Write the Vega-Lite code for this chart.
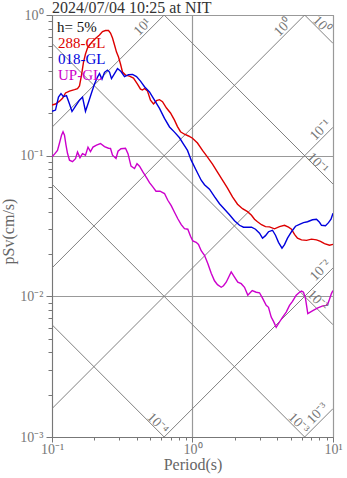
{
"$schema":"https://vega.github.io/schema/vega-lite/v6.json",
"width":281,"height":422,
"autosize":{"type":"none"},
"padding":{"left":52,"top":15,"right":14,"bottom":41},
"config":{"view":{"stroke":"#888","strokeWidth":1},"font":"Liberation Serif"},
"title":{"text":"2024/07/04 10:25 at NIT","anchor":"start","frame":"group","font":"Liberation Serif","fontSize":16,"fontWeight":"normal","color":"#333","offset":4,"dy":12},
"datasets":{
"grid":[
{"g":"a10","T":0.1,"Sv":0.159155},{"g":"a10","T":0.628319,"Sv":1},
{"g":"a1","T":0.1,"Sv":0.0159155},{"g":"a1","T":6.28319,"Sv":1},
{"g":"a01","T":0.1,"Sv":0.00159155},{"g":"a01","T":10,"Sv":0.159155},
{"g":"a001","T":0.628319,"Sv":0.001},{"g":"a001","T":10,"Sv":0.0159155},
{"g":"a0001","T":6.28319,"Sv":0.001},{"g":"a0001","T":10,"Sv":0.00159155},
{"g":"d1","T":6.28319,"Sv":1},{"g":"d1","T":10,"Sv":0.628319},
{"g":"d01","T":0.628319,"Sv":1},{"g":"d01","T":10,"Sv":0.0628319},
{"g":"d001","T":0.1,"Sv":0.628319},{"g":"d001","T":10,"Sv":0.00628319},
{"g":"d0001","T":0.1,"Sv":0.0628319},{"g":"d0001","T":6.28319,"Sv":0.001},
{"g":"d00001","T":0.1,"Sv":0.00628319},{"g":"d00001","T":0.628319,"Sv":0.001}
],
"labels":[
{"k":"Sa","lab":"10¹","T":0.441,"Sv":0.821},
{"k":"Sa","lab":"10⁰","T":4.41,"Sv":0.815},
{"k":"Sa","lab":"10⁻¹","T":8.15,"Sv":0.152},
{"k":"Sa","lab":"10⁻²","T":8.15,"Sv":0.0153},
{"k":"Sa","lab":"10⁻³","T":7.76,"Sv":0.00147},
{"k":"Sd","lab":"10⁰","T":8.28,"Sv":0.849},
{"k":"Sd","lab":"10⁻¹","T":7.76,"Sv":0.0884},
{"k":"Sd","lab":"10⁻²","T":7.76,"Sv":0.00937},
{"k":"Sd","lab":"10⁻³","T":5.68,"Sv":0.00125},
{"k":"Sd","lab":"10⁻⁴","T":0.5636,"Sv":0.001247}
],
"spectra":[
{"c":"288-GL","T":0.1,"Sv":0.229},{"c":"288-GL","T":0.1059,"Sv":0.233},{"c":"288-GL","T":0.1131,"Sv":0.244},{"c":"288-GL","T":0.1188,"Sv":0.256},{"c":"288-GL","T":0.1248,"Sv":0.279},{"c":"288-GL","T":0.1332,"Sv":0.288},{"c":"288-GL","T":0.1446,"Sv":0.295},{"c":"288-GL","T":0.1519,"Sv":0.300},{"c":"288-GL","T":0.1569,"Sv":0.313},{"c":"288-GL","T":0.1622,"Sv":0.374},{"c":"288-GL","T":0.1676,"Sv":0.463},{"c":"288-GL","T":0.1731,"Sv":0.528},{"c":"288-GL","T":0.1789,"Sv":0.582},{"c":"288-GL","T":0.1849,"Sv":0.612},{"c":"288-GL","T":0.1941,"Sv":0.648},{"c":"288-GL","T":0.2040,"Sv":0.680},{"c":"288-GL","T":0.2178,"Sv":0.720},{"c":"288-GL","T":0.2288,"Sv":0.763},{"c":"288-GL","T":0.2404,"Sv":0.776},{"c":"288-GL","T":0.2524,"Sv":0.776},{"c":"288-GL","T":0.2609,"Sv":0.744},{"c":"288-GL","T":0.2696,"Sv":0.686},{"c":"288-GL","T":0.2786,"Sv":0.612},{"c":"288-GL","T":0.2878,"Sv":0.545},{"c":"288-GL","T":0.2974,"Sv":0.503},{"c":"288-GL","T":0.3073,"Sv":0.448},{"c":"288-GL","T":0.3176,"Sv":0.393},{"c":"288-GL","T":0.3336,"Sv":0.374},{"c":"288-GL","T":0.3562,"Sv":0.368},{"c":"288-GL","T":0.3802,"Sv":0.356},{"c":"288-GL","T":0.4059,"Sv":0.323},{"c":"288-GL","T":0.4265,"Sv":0.297},{"c":"288-GL","T":0.4407,"Sv":0.293},{"c":"288-GL","T":0.4553,"Sv":0.300},{"c":"288-GL","T":0.4783,"Sv":0.288},{"c":"288-GL","T":0.5023,"Sv":0.248},{"c":"288-GL","T":0.5278,"Sv":0.233},{"c":"288-GL","T":0.5542,"Sv":0.246},{"c":"288-GL","T":0.5823,"Sv":0.250},{"c":"288-GL","T":0.6116,"Sv":0.242},{"c":"288-GL","T":0.6530,"Sv":0.218},{"c":"288-GL","T":0.6973,"Sv":0.201},{"c":"288-GL","T":0.7444,"Sv":0.179},{"c":"288-GL","T":0.7819,"Sv":0.161},{"c":"288-GL","T":0.8215,"Sv":0.148},{"c":"288-GL","T":0.8770,"Sv":0.142},{"c":"288-GL","T":0.9365,"Sv":0.138},{"c":"288-GL","T":1.000,"Sv":0.133},{"c":"288-GL","T":1.085,"Sv":0.123},{"c":"288-GL","T":1.178,"Sv":0.109},{"c":"288-GL","T":1.279,"Sv":0.0976},{"c":"288-GL","T":1.388,"Sv":0.0870},{"c":"288-GL","T":1.506,"Sv":0.0763},{"c":"288-GL","T":1.635,"Sv":0.0669},{"c":"288-GL","T":1.775,"Sv":0.0587},{"c":"288-GL","T":1.926,"Sv":0.0509},{"c":"288-GL","T":2.091,"Sv":0.0452},{"c":"288-GL","T":2.270,"Sv":0.0420},{"c":"288-GL","T":2.464,"Sv":0.0400},{"c":"288-GL","T":2.630,"Sv":0.0377},{"c":"288-GL","T":2.762,"Sv":0.0353},{"c":"288-GL","T":2.901,"Sv":0.0339},{"c":"288-GL","T":3.098,"Sv":0.0323},{"c":"288-GL","T":3.308,"Sv":0.0313},{"c":"288-GL","T":3.532,"Sv":0.0312},{"c":"288-GL","T":3.834,"Sv":0.0302},{"c":"288-GL","T":4.161,"Sv":0.0313},{"c":"288-GL","T":4.517,"Sv":0.0320},{"c":"288-GL","T":4.823,"Sv":0.0310},{"c":"288-GL","T":5.066,"Sv":0.0300},{"c":"288-GL","T":5.321,"Sv":0.0276},{"c":"288-GL","T":5.588,"Sv":0.0259},{"c":"288-GL","T":5.967,"Sv":0.0252},{"c":"288-GL","T":6.478,"Sv":0.0250},{"c":"288-GL","T":7.031,"Sv":0.0255},{"c":"288-GL","T":7.630,"Sv":0.0252},{"c":"288-GL","T":8.147,"Sv":0.0246},{"c":"288-GL","T":8.699,"Sv":0.0237},{"c":"288-GL","T":9.443,"Sv":0.0231},{"c":"288-GL","T":10,"Sv":0.0234},
{"c":"018-GL","T":0.1,"Sv":0.207},{"c":"018-GL","T":0.1059,"Sv":0.211},{"c":"018-GL","T":0.1112,"Sv":0.261},{"c":"018-GL","T":0.1159,"Sv":0.276},{"c":"018-GL","T":0.1207,"Sv":0.263},{"c":"018-GL","T":0.1268,"Sv":0.267},{"c":"018-GL","T":0.1332,"Sv":0.233},{"c":"018-GL","T":0.1388,"Sv":0.206},{"c":"018-GL","T":0.1470,"Sv":0.225},{"c":"018-GL","T":0.1569,"Sv":0.248},{"c":"018-GL","T":0.1649,"Sv":0.261},{"c":"018-GL","T":0.1731,"Sv":0.207},{"c":"018-GL","T":0.1819,"Sv":0.240},{"c":"018-GL","T":0.1910,"Sv":0.279},{"c":"018-GL","T":0.2007,"Sv":0.323},{"c":"018-GL","T":0.2108,"Sv":0.362},{"c":"018-GL","T":0.2178,"Sv":0.383},{"c":"018-GL","T":0.2269,"Sv":0.350},{"c":"018-GL","T":0.2364,"Sv":0.390},{"c":"018-GL","T":0.2483,"Sv":0.406},{"c":"018-GL","T":0.2566,"Sv":0.393},{"c":"018-GL","T":0.2651,"Sv":0.353},{"c":"018-GL","T":0.2786,"Sv":0.383},{"c":"018-GL","T":0.2926,"Sv":0.416},{"c":"018-GL","T":0.3098,"Sv":0.396},{"c":"018-GL","T":0.3281,"Sv":0.365},{"c":"018-GL","T":0.3503,"Sv":0.377},{"c":"018-GL","T":0.3741,"Sv":0.378},{"c":"018-GL","T":0.3994,"Sv":0.365},{"c":"018-GL","T":0.4265,"Sv":0.339},{"c":"018-GL","T":0.4553,"Sv":0.309},{"c":"018-GL","T":0.4942,"Sv":0.284},{"c":"018-GL","T":0.5364,"Sv":0.248},{"c":"018-GL","T":0.5823,"Sv":0.217},{"c":"018-GL","T":0.6320,"Sv":0.184},{"c":"018-GL","T":0.6861,"Sv":0.160},{"c":"018-GL","T":0.7444,"Sv":0.147},{"c":"018-GL","T":0.8083,"Sv":0.134},{"c":"018-GL","T":0.8628,"Sv":0.121},{"c":"018-GL","T":0.9213,"Sv":0.109},{"c":"018-GL","T":0.9788,"Sv":0.0929},{"c":"018-GL","T":1.062,"Sv":0.0788},{"c":"018-GL","T":1.153,"Sv":0.0669},{"c":"018-GL","T":1.217,"Sv":0.0622},{"c":"018-GL","T":1.321,"Sv":0.0578},{"c":"018-GL","T":1.434,"Sv":0.0511},{"c":"018-GL","T":1.557,"Sv":0.0455},{"c":"018-GL","T":1.690,"Sv":0.0416},{"c":"018-GL","T":1.834,"Sv":0.0380},{"c":"018-GL","T":1.991,"Sv":0.0345},{"c":"018-GL","T":2.161,"Sv":0.0320},{"c":"018-GL","T":2.307,"Sv":0.0310},{"c":"018-GL","T":2.464,"Sv":0.0310},{"c":"018-GL","T":2.630,"Sv":0.0310},{"c":"018-GL","T":2.808,"Sv":0.0300},{"c":"018-GL","T":2.999,"Sv":0.0281},{"c":"018-GL","T":3.150,"Sv":0.0259},{"c":"018-GL","T":3.308,"Sv":0.0270},{"c":"018-GL","T":3.474,"Sv":0.0288},{"c":"018-GL","T":3.710,"Sv":0.0295},{"c":"018-GL","T":3.896,"Sv":0.0272},{"c":"018-GL","T":4.094,"Sv":0.0242},{"c":"018-GL","T":4.335,"Sv":0.0220},{"c":"018-GL","T":4.517,"Sv":0.0233},{"c":"018-GL","T":4.745,"Sv":0.0259},{"c":"018-GL","T":5.066,"Sv":0.0288},{"c":"018-GL","T":5.410,"Sv":0.0315},{"c":"018-GL","T":5.776,"Sv":0.0325},{"c":"018-GL","T":6.166,"Sv":0.0334},{"c":"018-GL","T":6.584,"Sv":0.0339},{"c":"018-GL","T":7.146,"Sv":0.0350},{"c":"018-GL","T":7.630,"Sv":0.0353},{"c":"018-GL","T":8.015,"Sv":0.0336},{"c":"018-GL","T":8.282,"Sv":0.0320},{"c":"018-GL","T":8.844,"Sv":0.0318},{"c":"018-GL","T":9.290,"Sv":0.0334},{"c":"018-GL","T":9.678,"Sv":0.0353},{"c":"018-GL","T":10,"Sv":0.0390},
{"c":"UP-GL","T":0.1,"Sv":0.0981},{"c":"UP-GL","T":0.1042,"Sv":0.1025},{"c":"UP-GL","T":0.1094,"Sv":0.109},{"c":"UP-GL","T":0.1131,"Sv":0.123},{"c":"UP-GL","T":0.1169,"Sv":0.140},{"c":"UP-GL","T":0.1198,"Sv":0.148},{"c":"UP-GL","T":0.1227,"Sv":0.140},{"c":"UP-GL","T":0.1258,"Sv":0.119},{"c":"UP-GL","T":0.1289,"Sv":0.104},{"c":"UP-GL","T":0.1332,"Sv":0.0929},{"c":"UP-GL","T":0.1399,"Sv":0.0906},{"c":"UP-GL","T":0.1470,"Sv":0.0952},{"c":"UP-GL","T":0.1519,"Sv":0.106},{"c":"UP-GL","T":0.1582,"Sv":0.0968},{"c":"UP-GL","T":0.1649,"Sv":0.1033},{"c":"UP-GL","T":0.1731,"Sv":0.1008},{"c":"UP-GL","T":0.1804,"Sv":0.115},{"c":"UP-GL","T":0.1879,"Sv":0.107},{"c":"UP-GL","T":0.1958,"Sv":0.115},{"c":"UP-GL","T":0.2074,"Sv":0.119},{"c":"UP-GL","T":0.2214,"Sv":0.122},{"c":"UP-GL","T":0.2364,"Sv":0.116},{"c":"UP-GL","T":0.2524,"Sv":0.113},{"c":"UP-GL","T":0.2609,"Sv":0.1125},{"c":"UP-GL","T":0.2696,"Sv":0.1008},{"c":"UP-GL","T":0.2855,"Sv":0.0955},{"c":"UP-GL","T":0.2950,"Sv":0.1076},{"c":"UP-GL","T":0.3098,"Sv":0.112},{"c":"UP-GL","T":0.3336,"Sv":0.113},{"c":"UP-GL","T":0.3474,"Sv":0.1033},{"c":"UP-GL","T":0.3650,"Sv":0.0842},{"c":"UP-GL","T":0.3866,"Sv":0.0811},{"c":"UP-GL","T":0.4027,"Sv":0.0877},{"c":"UP-GL","T":0.4197,"Sv":0.0842},{"c":"UP-GL","T":0.4445,"Sv":0.0763},{"c":"UP-GL","T":0.4706,"Sv":0.0697},{"c":"UP-GL","T":0.4942,"Sv":0.0643},{"c":"UP-GL","T":0.5235,"Sv":0.0597},{"c":"UP-GL","T":0.5498,"Sv":0.0559},{"c":"UP-GL","T":0.5871,"Sv":0.0559},{"c":"UP-GL","T":0.6320,"Sv":0.0538},{"c":"UP-GL","T":0.6672,"Sv":0.0482},{"c":"UP-GL","T":0.7055,"Sv":0.0441},{"c":"UP-GL","T":0.7444,"Sv":0.0396},{"c":"UP-GL","T":0.7860,"Sv":0.0356},{"c":"UP-GL","T":0.8314,"Sv":0.0323},{"c":"UP-GL","T":0.8771,"Sv":0.0303},{"c":"UP-GL","T":0.9260,"Sv":0.0300},{"c":"UP-GL","T":0.9678,"Sv":0.0267},{"c":"UP-GL","T":1.005,"Sv":0.0248},{"c":"UP-GL","T":1.062,"Sv":0.0242},{"c":"UP-GL","T":1.103,"Sv":0.0234},{"c":"UP-GL","T":1.153,"Sv":0.0211},{"c":"UP-GL","T":1.217,"Sv":0.0196},{"c":"UP-GL","T":1.285,"Sv":0.0171},{"c":"UP-GL","T":1.359,"Sv":0.0146},{"c":"UP-GL","T":1.434,"Sv":0.0129},{"c":"UP-GL","T":1.506,"Sv":0.0121},{"c":"UP-GL","T":1.601,"Sv":0.0116},{"c":"UP-GL","T":1.662,"Sv":0.0119},{"c":"UP-GL","T":1.737,"Sv":0.0126},{"c":"UP-GL","T":1.886,"Sv":0.0149},{"c":"UP-GL","T":1.991,"Sv":0.0137},{"c":"UP-GL","T":2.101,"Sv":0.0126},{"c":"UP-GL","T":2.222,"Sv":0.0123},{"c":"UP-GL","T":2.345,"Sv":0.0116},{"c":"UP-GL","T":2.475,"Sv":0.0102},{"c":"UP-GL","T":2.660,"Sv":0.0110},{"c":"UP-GL","T":2.841,"Sv":0.0107},{"c":"UP-GL","T":2.999,"Sv":0.0106},{"c":"UP-GL","T":3.164,"Sv":0.00963},{"c":"UP-GL","T":3.346,"Sv":0.00863},{"c":"UP-GL","T":3.474,"Sv":0.00835},{"c":"UP-GL","T":3.632,"Sv":0.00712},{"c":"UP-GL","T":3.772,"Sv":0.00664},{"c":"UP-GL","T":3.942,"Sv":0.00602},{"c":"UP-GL","T":4.161,"Sv":0.00657},{"c":"UP-GL","T":4.371,"Sv":0.00709},{"c":"UP-GL","T":4.646,"Sv":0.00773},{"c":"UP-GL","T":4.903,"Sv":0.00863},{"c":"UP-GL","T":5.149,"Sv":0.00922},{"c":"UP-GL","T":5.472,"Sv":0.0102},{"c":"UP-GL","T":5.776,"Sv":0.0107},{"c":"UP-GL","T":5.967,"Sv":0.0109},{"c":"UP-GL","T":6.166,"Sv":0.0107},{"c":"UP-GL","T":6.372,"Sv":0.00963},{"c":"UP-GL","T":6.617,"Sv":0.00753},{"c":"UP-GL","T":7.181,"Sv":0.00791},{"c":"UP-GL","T":7.796,"Sv":0.00828},{"c":"UP-GL","T":8.463,"Sv":0.00856},{"c":"UP-GL","T":8.948,"Sv":0.00863},{"c":"UP-GL","T":9.214,"Sv":0.00892},{"c":"UP-GL","T":9.443,"Sv":0.00952},{"c":"UP-GL","T":9.757,"Sv":0.0105},{"c":"UP-GL","T":10,"Sv":0.0110}
]
},
"encoding":{
"x":{"field":"T","type":"quantitative","scale":{"type":"log","domain":[0.1,10],"nice":false},
"axis":{"title":"Period(s)","values":[0.1,0.2,0.3,0.4,0.5,0.6,0.7,0.8,0.9,1,2,3,4,5,6,7,8,9,10],
"labelExpr":"abs(datum.value-0.1)<1e-9 ? '10⁻¹' : abs(datum.value-1)<1e-9 ? '10⁰' : abs(datum.value-10)<1e-9 ? '10¹' : ''",
"labelFont":"Liberation Serif","labelFontSize":14,"labelColor":"#777","labelPadding":0,"labelFlush":false,"labelOverlap":false,"labelBound":false,
"tickSize":{"condition":{"test":"abs(log(datum.value)/LN10 - round(log(datum.value)/LN10)) < 0.001","value":5},"value":3},
"tickColor":"#777","domainColor":"#777",
"grid":true,"gridColor":"#999","gridWidth":1.2,
"gridOpacity":{"condition":{"test":"abs(log(datum.value)/LN10 - round(log(datum.value)/LN10)) < 0.001","value":1},"value":0},
"titleFont":"Liberation Serif","titleFontSize":16,"titleFontWeight":"normal","titleColor":"#666","titleY":32,"titleBaseline":"alphabetic"}},
"y":{"field":"Sv","type":"quantitative","scale":{"type":"log","domain":[0.001,1],"nice":false},
"axis":{"title":"pSv(cm/s)","values":[0.001,0.002,0.003,0.004,0.005,0.006,0.007,0.008,0.009,0.01,0.02,0.03,0.04,0.05,0.06,0.07,0.08,0.09,0.1,0.2,0.3,0.4,0.5,0.6,0.7,0.8,0.9,1],
"labelExpr":"abs(datum.value-0.001)<1e-9 ? '10⁻³' : abs(datum.value-0.01)<1e-9 ? '10⁻²' : abs(datum.value-0.1)<1e-9 ? '10⁻¹' : abs(datum.value-1)<1e-9 ? '10⁰' : ''",
"labelFont":"Liberation Serif","labelFontSize":14,"labelColor":"#777","labelPadding":3,"labelFlush":false,"labelOverlap":false,"labelBound":false,
"tickSize":{"condition":{"test":"abs(log(datum.value)/LN10 - round(log(datum.value)/LN10)) < 0.001","value":6},"value":4},
"tickColor":"#777","domainColor":"#777",
"grid":true,"gridColor":"#999","gridWidth":1.2,
"gridOpacity":{"condition":{"test":"abs(log(datum.value)/LN10 - round(log(datum.value)/LN10)) < 0.001","value":1},"value":0},
"titleFont":"Liberation Serif","titleFontSize":16,"titleFontWeight":"normal","titleColor":"#666","titleX":-44,"titleY":216,"titleAlign":"center","titleBaseline":"middle","titleAngle":-90}}
},
"layer":[
{"data":{"name":"grid"},"mark":{"type":"line","color":"#808080","strokeWidth":1,"clip":true},"encoding":{"detail":{"field":"g","type":"nominal"}}},
{"data":{"name":"spectra"},"mark":{"type":"line","strokeWidth":1.4,"clip":true},
"encoding":{"color":{"field":"c","type":"nominal","scale":{"domain":["288-GL","018-GL","UP-GL"],"range":["#dd0000","#0000dd","#cc00cc"]},
"legend":{"title":"h= 5%","orient":"none","legendX":5,"legendY":5,"padding":0,"titleFont":"Liberation Serif","titleFontSize":15,"titleFontWeight":"normal","titleColor":"#111","titlePadding":0,"labelFont":"Liberation Serif","labelFontSize":15,"labelOffset":-14,"rowPadding":0,"symbolSize":0,"symbolOpacity":0,"symbolStrokeWidth":0,"labelLimit":200,
"encode":{"labels":{"update":{"fill":{"scale":"color","field":"value"}}}}}}}},
{"data":{"name":"labels"},"transform":[{"filter":"datum.k == 'Sa'"}],"mark":{"type":"text","angle":-45,"align":"center","baseline":"middle","fontSize":14,"font":"Liberation Serif","color":"#777"},"encoding":{"text":{"field":"lab"}}},
{"data":{"name":"labels"},"transform":[{"filter":"datum.k == 'Sd'"}],"mark":{"type":"text","angle":45,"align":"center","baseline":"middle","fontSize":14,"font":"Liberation Serif","color":"#777"},"encoding":{"text":{"field":"lab"}}}
]
}
